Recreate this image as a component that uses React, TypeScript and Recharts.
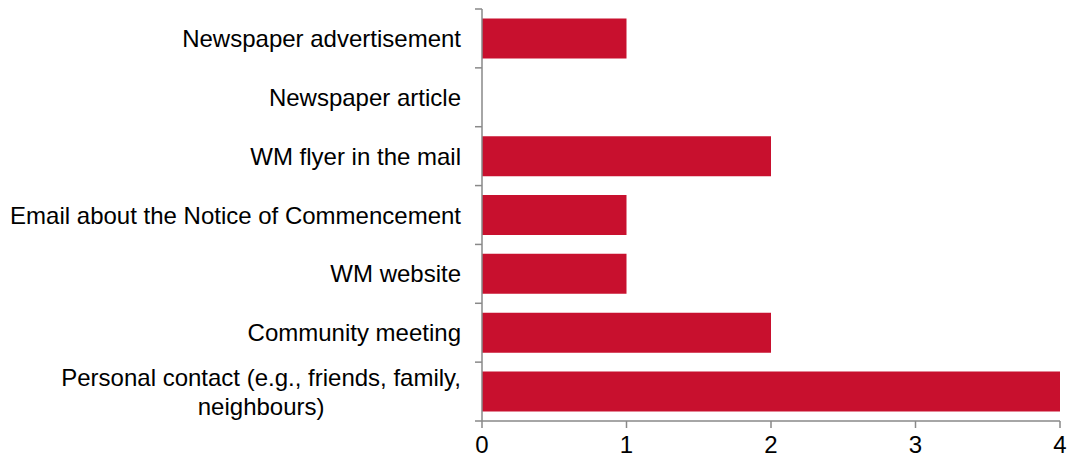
import React from 'react';
import { BarChart, Bar, XAxis, YAxis } from 'recharts';

const categories = [
  'Newspaper advertisement',
  'Newspaper article',
  'WM flyer in the mail',
  'Email about the Notice of Commencement',
  'WM website',
  'Community meeting',
  'Personal contact (e.g., friends, family,\nneighbours)',
];
const counts = [1, 0, 2, 1, 1, 2, 4];
const xTicks = [0, 1, 2, 3, 4];

const data = categories.map((name, i) => ({ name, count: counts[i] }));

const W = 1072;
const H = 463;
const M = { top: 9, right: 12, bottom: 12, left: 0 };
const X_AXIS_H = 30;
const BAND = (H - M.top - M.bottom - X_AXIS_H) / categories.length;

const AXIS = '#898989';
const BAR = '#C8102E';
const FONT = '"Liberation Sans", Arial, sans-serif';
const FONT_SIZE = 24;

let ctx: CanvasRenderingContext2D | null = null;
const measure = (s: string) => {
  if (!ctx) ctx = document.createElement('canvas').getContext('2d');
  if (!ctx) return s.length * FONT_SIZE * 0.5;
  ctx.font = `${FONT_SIZE}px ${FONT}`;
  return ctx.measureText(s).width;
};

// category label + the band-edge tick marks (Excel style, ticks between categories)
const CategoryTick = (props: any) => {
  const { x, y, payload, index } = props;
  const lines = String(payload.value).split('\n');
  const lh = 29;
  const start = y - ((lines.length - 1) * lh) / 2;
  const axisX = x + 21;
  const w = lines.length > 1 ? Math.max(...lines.map(measure)) : 0;
  return (
    <g>
      <line x1={axisX - 7} x2={axisX} y1={y - BAND / 2} y2={y - BAND / 2} stroke={AXIS} strokeWidth={1.5} />
      {index === categories.length - 1 && (
        <line x1={axisX - 7} x2={axisX} y1={y + BAND / 2} y2={y + BAND / 2} stroke={AXIS} strokeWidth={1.5} />
      )}
      <text fill="#000" fontSize={FONT_SIZE} fontFamily={FONT}>
        {lines.map((l: string, i: number) =>
          lines.length > 1 ? (
            <tspan key={i} x={x - w / 2} y={start + i * lh} dy="0.355em" textAnchor="middle">
              {l}
            </tspan>
          ) : (
            <tspan key={i} x={x} y={start} dy="0.355em" textAnchor="end">
              {l}
            </tspan>
          )
        )}
      </text>
    </g>
  );
};

export default function App() {
  return (
    <div style={{ position: 'absolute', left: 0, top: 0, background: '#fff' }}>
      <BarChart
        width={W}
        height={H}
        data={data}
        layout="vertical"
        margin={M}
        barCategoryGap="16%"
      >
        <YAxis
          type="category"
          dataKey="name"
          width={482}
          axisLine={{ stroke: AXIS, strokeWidth: 1.5 }}
          tickLine={false}
          tickSize={7}
          tickMargin={14}
          interval={0}
          tick={<CategoryTick />}
        />
        <XAxis
          type="number"
          domain={[0, 4]}
          ticks={xTicks}
          height={X_AXIS_H}
          tickSize={7}
          tickMargin={8}
          axisLine={{ stroke: AXIS, strokeWidth: 1.5 }}
          tickLine={{ stroke: AXIS, strokeWidth: 1.5 }}
          tick={{ fill: '#000', fontSize: FONT_SIZE, fontFamily: FONT }}
        />
        <Bar dataKey="count" fill={BAR} isAnimationActive={false} />
      </BarChart>
    </div>
  );
}
